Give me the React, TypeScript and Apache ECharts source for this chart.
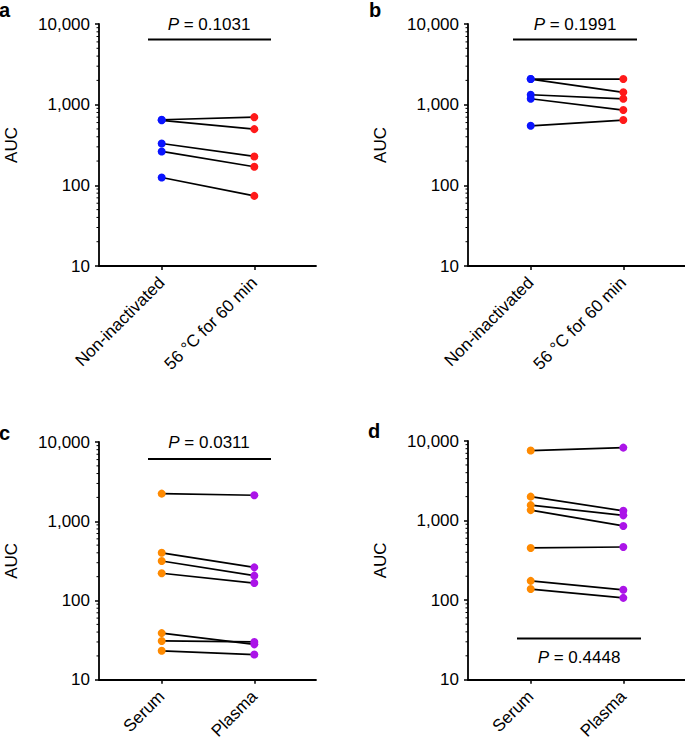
import React, { useEffect, useRef } from 'react';
import * as echarts from 'echarts';

const heatCategories = ['Non-inactivated', '56 °C for 60 min'];
const sampleCategories = ['Serum', 'Plasma'];

const aBefore = [650, 640, 330, 263, 125];
const aAfter = [700, 497, 228, 170, 74];
const bBefore = [2078, 2078, 1327, 1183, 547];
const bAfter = [2078, 1422, 1183, 857, 644];
const cBefore = [2233, 400, 315, 221, 38.8, 30.9, 23.2];
const cAfter = [2128, 262, 206, 166, 28, 30, 20.8];
const dBefore = [7586, 2000, 1563, 1355, 453, 175, 138];
const dAfter = [8260, 1327, 1164, 857, 466, 135, 107];

const yTickValues = [10, 100, 1000, 10000];
const minorTickValues = [20, 30, 40, 50, 60, 70, 80, 90, 200, 300, 400, 500, 600, 700, 800, 900, 2000, 3000, 4000, 5000, 6000, 7000, 8000, 9000];
const pValues = ['0.1031', '0.1991', '0.0311', '0.4448'];
const panelLetters = ['a', 'b', 'c', 'd'];

const FONT = "'Liberation Sans', Arial, Helvetica, sans-serif";
const FS = 17;
const X_MIN = -0.677;
const X_MAX = 1.666;

const BLUE = '#0a14ff';
const RED = '#ff1a1a';
const ORANGE = '#ff8a00';
const PURPLE = '#ab14e8';

const panels = [
  { cats: heatCategories, before: aBefore, after: aAfter, c1: BLUE, c2: RED, grid: { left: 99, top: 24, width: 217, height: 242 } },
  { cats: heatCategories, before: bBefore, after: bAfter, c1: BLUE, c2: RED, grid: { left: 468, top: 24, width: 217, height: 242 } },
  { cats: sampleCategories, before: cBefore, after: cAfter, c1: ORANGE, c2: PURPLE, grid: { left: 99, top: 442, width: 217, height: 241 } },
  { cats: sampleCategories, before: dBefore, after: dAfter, c1: ORANGE, c2: PURPLE, grid: { left: 468, top: 441, width: 217, height: 242 } },
];

// annotation positions (pixels)
const pAnno = [
  { tx: 209, ty: 24, x1: 148, x2: 271, ly: 39.5 },
  { tx: 575, ty: 24, x1: 513, x2: 637, ly: 39.5 },
  { tx: 209, ty: 442, x1: 148, x2: 271, ly: 459 },
  { tx: 579, ty: 657, x1: 517, x2: 641, ly: 638.5 },
];
const letterPos = [
  { x: -1, y: 20 },
  { x: 369, y: 20 },
  { x: -1, y: 443 },
  { x: 368, y: 441 },
];

function fmt(v: number) {
  return v.toLocaleString('en-US');
}

export default function App() {
  const ref = useRef<HTMLDivElement>(null);
  useEffect(() => {
    if (!ref.current) return;
    const chart = echarts.init(ref.current, null, { renderer: 'svg' });
    const grids: any[] = [];
    const xAxes: any[] = [];
    const yAxes: any[] = [];
    const series: any[] = [];
    panels.forEach((p, i) => {
      grids.push({ ...p.grid, containLabel: false });
      xAxes.push({
        type: 'value',
        gridIndex: i,
        min: X_MIN,
        max: X_MAX,
        splitLine: { show: false },
        axisLine: { show: true, onZero: false, lineStyle: { color: '#000', width: 1.8 } },
        axisTick: { show: true, customValues: [0, 1], length: 4, lineStyle: { color: '#000', width: 1.5 } },
        axisLabel: {
          customValues: [0, 1],
          formatter: (v: number) => p.cats[Math.round(v)] ?? '',
          rotate: 45,
          margin: 14,
          color: '#000',
          fontSize: FS,
          fontFamily: FONT,
        },
      });
      yAxes.push({
        type: 'log',
        logBase: 10,
        gridIndex: i,
        min: yTickValues[0],
        max: yTickValues[yTickValues.length - 1],
        name: 'AUC',
        nameLocation: 'middle',
        nameRotate: 90,
        nameGap: 79,
        nameTextStyle: { color: '#000', fontSize: FS, fontFamily: FONT },
        splitLine: { show: false },
        axisLine: { show: true, onZero: false, lineStyle: { color: '#000', width: 1.8 } },
        axisTick: { show: true, length: 4, lineStyle: { color: '#000', width: 1.5 } },
        axisLabel: { formatter: (v: number) => fmt(v), margin: 9, color: '#000', fontSize: FS, fontFamily: FONT },
      });
      p.before.forEach((b, j) => {
        series.push({
          type: 'line',
          xAxisIndex: i,
          yAxisIndex: i,
          data: [[0, b], [1, p.after[j]]],
          symbol: 'none',
          lineStyle: { color: '#000', width: 1.7 },
          silent: true,
          z: 2,
        });
      });
      series.push({
        type: 'scatter', xAxisIndex: i, yAxisIndex: i,
        data: p.before.map((v) => [0, v]),
        symbolSize: 8, itemStyle: { color: p.c1, opacity: 1 }, z: 3,
      });
      series.push({
        type: 'scatter', xAxisIndex: i, yAxisIndex: i,
        data: p.after.map((v) => [1, v]),
        symbolSize: 8, itemStyle: { color: p.c2, opacity: 1 }, z: 3,
      });
      series.push({
        type: 'custom', xAxisIndex: i, yAxisIndex: i,
        data: minorTickValues.map((v) => [X_MIN, v]),
        silent: true,
        clip: false,
        renderItem: (params: any, api: any) => {
          const pt = api.coord([api.value(0), api.value(1)]);
          return {
            type: 'line',
            shape: { x1: pt[0] - 2.5, y1: pt[1], x2: pt[0], y2: pt[1] },
            style: { stroke: '#000', lineWidth: 1 },
          };
        },
      });
    });

    const graphic: any[] = [];
    pAnno.forEach((a, i) => {
      graphic.push({
        type: 'text',
        x: a.tx,
        y: a.ty,
        style: {
          text: '{i|P} = ' + pValues[i],
          rich: { i: { fontStyle: 'italic', fontSize: FS, fontFamily: FONT, fill: '#000' } },
          fontSize: FS,
          fontFamily: FONT,
          fill: '#000',
          align: 'center',
          verticalAlign: 'middle',
        },
      });
      graphic.push({
        type: 'line',
        shape: { x1: a.x1, y1: a.ly, x2: a.x2, y2: a.ly },
        style: { stroke: '#000', lineWidth: 2 },
      });
    });
    letterPos.forEach((l, i) => {
      graphic.push({
        type: 'text',
        x: l.x,
        y: l.y,
        style: {
          text: panelLetters[i],
          fontSize: 20,
          fontWeight: 'bold',
          fontFamily: FONT,
          fill: '#000',
          align: 'left',
          verticalAlign: 'bottom',
        },
      });
    });

    chart.setOption({
      animation: false,
      backgroundColor: '#fff',
      grid: grids,
      xAxis: xAxes,
      yAxis: yAxes,
      series,
      graphic,
    });
    return () => chart.dispose();
  }, []);
  return (
    <div
      ref={ref}
      style={{ position: 'absolute', left: 0, top: 0, width: 685, height: 742, background: '#fff' }}
    />
  );
}
